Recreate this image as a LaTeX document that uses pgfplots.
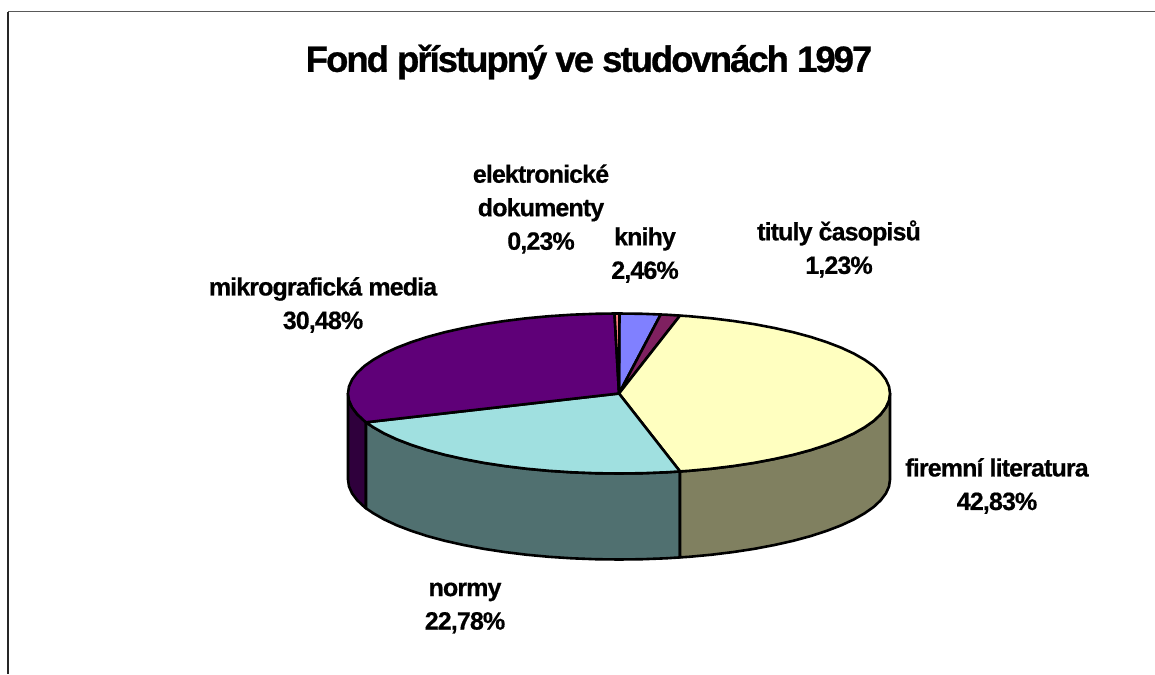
\documentclass[border=0pt]{standalone}
\usepackage{fontspec}
\setmainfont{Liberation Sans}[LetterSpace=-3.5,BoldFeatures={FakeBold=0.6}]
\newfontfamily\titlefont{Liberation Sans Bold}[LetterSpace=-5.5,FakeBold=0.8]
\usepackage{pgfplots}
\pgfplotsset{compat=1.18}
\definecolor{cKnihy}{HTML}{8080FF}
\definecolor{cTituly}{HTML}{7F2060}
\definecolor{cFirem}{HTML}{FFFFC0}
\definecolor{cFiremS}{HTML}{808060}
\definecolor{cNormy}{HTML}{A0E0E0}
\definecolor{cNormyS}{HTML}{507070}
\definecolor{cMikro}{HTML}{5F0078}
\definecolor{cMikroS}{HTML}{2F003C}
\definecolor{cElektro}{HTML}{FF8080}
\tikzset{
  slice/.style={draw=black, line width=2.6pt, line join=round},
  lab/.style={font=\bfseries\fontsize{25}{33.5}\selectfont, align=center, text=black, inner sep=0pt},
}
\begin{document}
\begin{tikzpicture}
\begin{axis}[
  scale only axis, width=1155pt, height=674pt,
  xmin=0, xmax=1155, ymin=0, ymax=674, y dir=reverse,
  hide axis, clip=true,
]
\path (axis cs:0,0) rectangle (axis cs:1155,674);
% frame of the chart area
\addplot[draw=black!65, line width=1pt] coordinates {(8,12) (1155,12)};
\addplot[draw=black!85, line width=1.2pt] coordinates {(8,12) (8,674)};
% side walls
\addplot[slice, fill=cMikroS] coordinates {(366,422.3) (364.3,420.9) (357.2,414.2) (352.1,407.4) (349,400.5) (348,393.5)
  (348,479.5) (349,486.5) (352.1,493.4) (357.2,500.2) (364.3,506.9) (366,508.3)} --cycle;
\addplot[slice, fill=cNormyS] coordinates {(680,471.4) (666.1,472.3) (642.6,473.2) (619,473.5) (595.4,473.2) (571.9,472.3) (548.9,470.8)
  (526.3,468.7) (504.5,466) (483.5,462.8) (463.6,459) (444.8,454.8) (427.4,450.1) (411.4,444.9) (397,439.4) (384.3,433.5) (373.4,427.3) (366,422.3)
  (366,508.3) (373.4,513.3) (384.3,519.5) (397,525.4) (411.4,530.9) (427.4,536.1) (444.8,540.8) (463.6,545) (483.5,548.8) (504.5,552)
  (526.3,554.7) (548.9,556.8) (571.9,558.3) (595.4,559.2) (619,559.5) (642.6,559.2) (666.1,558.3) (680,557.4)} --cycle;
\addplot[slice, fill=cFiremS] coordinates {(890,393.5) (889,400.5) (885.9,407.4) (880.8,414.2) (873.7,420.9) (864.6,427.3) (853.7,433.5) (841,439.4)
  (826.6,444.9) (810.6,450.1) (793.2,454.8) (774.4,459) (754.5,462.8) (733.5,466) (711.7,468.7) (689.1,470.8) (680,471.4)
  (680,557.4) (689.1,556.8) (711.7,554.7) (733.5,552) (754.5,548.8) (774.4,545) (793.2,540.8) (810.6,536.1) (826.6,530.9)
  (841,525.4) (853.7,519.5) (864.6,513.3) (873.7,506.9) (880.8,500.2) (885.9,493.4) (889,486.5) (890,479.5)} --cycle;
% top faces: knihy, tituly, firemni, normy, mikro, elektronicke
\addplot[slice, fill=cKnihy] coordinates {(619,393.5) (619,313.5) (642.6,313.8) (660.7,314.5)} --cycle;
\addplot[slice, fill=cTituly] coordinates {(619,393.5) (660.7,314.5) (666.1,314.7) (680,315.6)} --cycle;
\addplot[slice, fill=cFirem] coordinates {(619,393.5) (680,315.6) (689.1,316.2) (711.7,318.3) (733.5,321) (754.5,324.2) (774.4,328) (793.2,332.2)
  (810.6,336.9) (826.6,342.1) (841,347.6) (853.7,353.5) (864.6,359.7) (873.7,366.1) (880.8,372.8) (885.9,379.6) (889,386.5) (890,393.5)
  (889,400.5) (885.9,407.4) (880.8,414.2) (873.7,420.9) (864.6,427.3) (853.7,433.5) (841,439.4) (826.6,444.9) (810.6,450.1) (793.2,454.8)
  (774.4,459) (754.5,462.8) (733.5,466) (711.7,468.7) (689.1,470.8) (680,471.4)} --cycle;
\addplot[slice, fill=cNormy] coordinates {(619,393.5) (680,471.4) (666.1,472.3) (642.6,473.2) (619,473.5) (595.4,473.2) (571.9,472.3) (548.9,470.8)
  (526.3,468.7) (504.5,466) (483.5,462.8) (463.6,459) (444.8,454.8) (427.4,450.1) (411.4,444.9) (397,439.4) (384.3,433.5) (373.4,427.3) (366,422.3)} --cycle;
\addplot[slice, fill=cMikro] coordinates {(619,393.5) (366,422.3) (364.3,420.9) (357.2,414.2) (352.1,407.4) (349,400.5) (348,393.5)
  (349,386.5) (352.1,379.6) (357.2,372.8) (364.3,366.1) (373.4,359.7) (384.3,353.5) (397,347.6) (411.4,342.1) (427.4,336.9) (444.8,332.2)
  (463.6,328) (483.5,324.2) (504.5,321) (526.3,318.3) (548.9,316.2) (571.9,314.7) (595.4,313.8) (614.5,313.5)} --cycle;
\addplot[slice, fill=cElektro] coordinates {(619,393.5) (614.5,313.5) (619.5,313.5)} --cycle;
% texts
\node[font=\titlefont\fontsize{36.5}{40}\selectfont, inner sep=0pt] at (axis cs:589,62) {Fond přístupný ve studovnách 1997};
\node[lab] at (axis cs:541,209) {elektronické\\dokumenty\\0,23\%};
\node[lab] at (axis cs:645,255) {knihy\\2,46\%};
\node[lab] at (axis cs:839,249) {tituly časopisů\\1,23\%};
\node[lab] at (axis cs:323,305) {mikrografická media\\30,48\%};
\node[lab] at (axis cs:997,486) {firemní literatura\\42,83\%};
\node[lab] at (axis cs:465,608) {normy\\22,78\%};
\end{axis}
\end{tikzpicture}
\end{document}
